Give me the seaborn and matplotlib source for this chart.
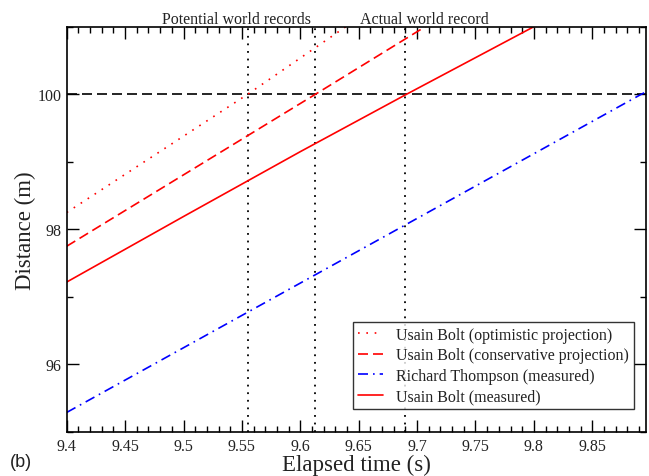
import numpy as np
import pandas as pd
import matplotlib
matplotlib.use("Agg")
import matplotlib.pyplot as plt
import matplotlib.transforms as mtransforms
import seaborn as sns

# Datos
t_optimista = [9.40, 9.555, 9.639]
d_optimista = [98.25, 100.0, 101.0]

t_conservador = [9.40, 9.613, 9.707]
d_conservador = [97.75, 100.0, 101.0]

t_thompson = [9.40, 9.892, 9.90]
d_thompson = [95.29, 100.0, 100.07]

t_bolt = [9.40, 9.50, 9.60, 9.691, 9.80]
d_bolt = [97.22, 98.19, 99.15, 100.0, 101.0]

tiempos_record = [9.555, 9.613, 9.69]
distancia_meta = 100

series = [
    ("Usain Bolt (optimistic projection)", t_optimista, d_optimista, "red", (0, (1, 4))),
    ("Usain Bolt (conservative projection)", t_conservador, d_conservador, "red", (0, (6, 3))),
    ("Richard Thompson (measured)", t_thompson, d_thompson, "blue", (0, (6, 3, 1, 3))),
    ("Usain Bolt (measured)", t_bolt, d_bolt, "red", "-"),
]

sns.set_style("white")
plt.rcParams["font.family"] = ["Liberation Serif", "DejaVu Serif"]

fig = plt.figure(figsize=(6.49, 4.77), dpi=100)
ax = fig.add_axes([0.1028, 0.0922, 0.8926, 0.8498])

# Una linea por serie
for nombre, t, d, color, estilo in series:
    df = pd.DataFrame({"t": t, "d": d})
    sns.lineplot(data=df, x="t", y="d", ax=ax, color=color, linestyle=estilo,
                 linewidth=1.2, label=nombre, sort=True)

# Lineas de referencia: records y meta de 100 m
for tr in tiempos_record:
    ax.axvline(tr, color="black", linestyle=(0, (1, 3.2)), linewidth=1.3, zorder=1)
ax.axhline(distancia_meta, color="black", linestyle=(0, (6, 3)), linewidth=1.2, zorder=1)

ax.set_xlim(9.4, 9.896)
ax.set_ylim(95, 101)
ax.set_xticks(np.arange(9.4, 9.86, 0.05))
ax.set_xticklabels(["9.4", "9.45", "9.5", "9.55", "9.6", "9.65", "9.7", "9.75", "9.8", "9.85"])
ax.set_xticks(np.arange(9.4, 9.896, 0.01), minor=True)
ax.set_yticks([96, 98, 100])
ax.set_yticks([95, 97, 99, 101], minor=True)

ax.tick_params(axis="both", which="both", direction="in", top=True, right=True,
               left=True, bottom=True, color="black", labelsize=11.5,
               labelcolor="#222222")
ax.tick_params(axis="both", which="major", length=8.4, width=1.0)
ax.tick_params(axis="both", which="minor", length=4, width=1.0)
ax.tick_params(axis="x", pad=4)
ax.tick_params(axis="y", pad=3.5)

for s in ax.spines.values():
    s.set_color("black")
    s.set_linewidth(1.2)

ax.set_xlabel("Elapsed time (s)", fontsize=16.5, color="#222222", labelpad=0)
ax.set_ylabel("Distance (m)", fontsize=16.5, color="#222222", labelpad=1)

trans = mtransforms.blended_transform_factory(ax.transData, ax.transAxes)
ax.text(9.5456, 1.01, "Potential world records", transform=trans, ha="center",
        va="baseline", fontsize=11.5, color="#222222")
ax.text(9.7064, 1.01, "Actual world record", transform=trans, ha="center",
        va="baseline", fontsize=11.5, color="#222222")

leg = ax.legend(loc="lower right", bbox_to_anchor=(0.979, 0.057), borderaxespad=0,
                fontsize=11.5, handlelength=1.6, labelspacing=0.28, handletextpad=0.8,
                borderpad=0.3, fancybox=False, frameon=True)
leg.get_frame().set_edgecolor("black")
leg.get_frame().set_linewidth(1.0)
for txt in leg.get_texts():
    txt.set_color("#222222")

fig.text(0.015, 0.022, "(b)", fontsize=13, family=["Liberation Sans", "DejaVu Sans"],
         color="#222222")

fig.savefig("out.png", dpi=100)
